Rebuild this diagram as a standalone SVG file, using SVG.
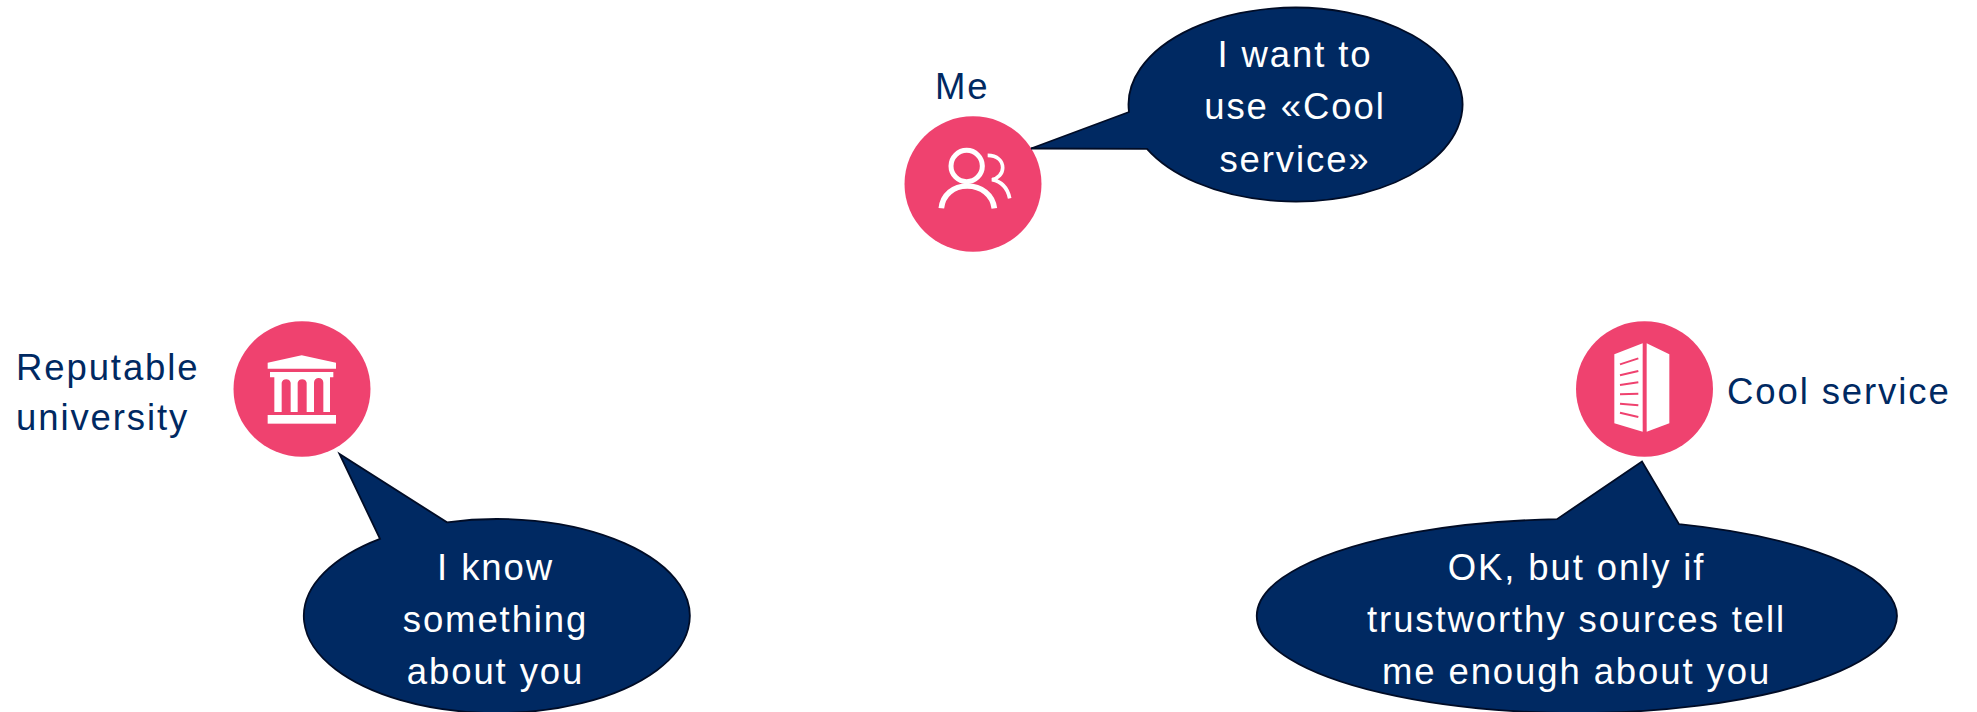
<svg xmlns="http://www.w3.org/2000/svg" width="1977" height="712" viewBox="0 0 1977 712">
<style>
text{font-family:"Liberation Sans",Arial,sans-serif;font-size:36.5px;letter-spacing:1.9px}
.lbl{fill:#002962}
.bt{fill:#fff;text-anchor:middle}
.bubble{fill:#002962;stroke:#000C26;stroke-width:1.8;stroke-linejoin:miter}
.disc{fill:#EF426F}
.ic{fill:#fff}
.il{fill:none;stroke:#fff;stroke-linecap:butt}
.pl{fill:none;stroke:#EF426F;stroke-width:6}
</style>
<rect width="1977" height="712" fill="#fff"/>
<g id="me">
<ellipse class="disc" cx="973" cy="184" rx="68.500" ry="67.700"/>
<g transform="translate(910 121) scale(.33333)">
<circle class="il" cx="170" cy="135" r="47" stroke-width="15"/>
<path class="il" stroke-width="17" d="M94 262C98 222 130 195 172 195C214 195 248 222 253 262"/>
<path class="il" stroke-width="11" d="M233 103C262 103 278 120 278 140C278 158 264 172 246 176C276 182 293 202 299 232"/>
</g>
<text class="lbl" x="935" y="98.500">Me</text>
</g>
<g id="me-callout">
<path class="bubble" d="M1147 148.900A167 97 0 1 0 1129 112L1031 148.500Z"/>
<text class="bt" x="1295" y="67">I want to</text>
<text class="bt" x="1295" y="119">use «Cool</text>
<text class="bt" x="1295" y="171.500">service»</text>
</g>
<g id="university">
<ellipse class="disc" cx="302" cy="389" rx="68.500" ry="67.700"/>
<g transform="translate(240 326) scale(.33333)">
<path class="ic" d="M83 110L185 88L288 110V128H83Z"/>
<path class="ic" d="M90 138H280V154H270V258H250V170A14 14 0 0 0 222 170V258H200V170A14 14 0 0 0 173 170V258H152V170A14 14 0 0 0 125 170V258H103V154H90Z"/>
<rect class="ic" x="83" y="267" width="205" height="26"/>
</g>
<text class="lbl" x="16" y="379.500">Reputable</text>
<text class="lbl" x="16" y="430">university</text>
</g>
<g id="university-callout">
<path class="bubble" d="M447 522.300A193 97 0 1 1 380 538.800L339.500 454Z"/>
<text class="bt" x="495.500" y="579.500">I know</text>
<text class="bt" x="495.500" y="631.500">something</text>
<text class="bt" x="495.500" y="683.500">about you</text>
</g>
<g id="cool-service">
<ellipse class="disc" cx="1644.500" cy="389" rx="68.500" ry="67.700"/>
<g transform="translate(1580 326) scale(.33333)">
<path class="ic" d="M103 85L188 52V317L103 292Z"/>
<path class="ic" d="M200 52L268 85V292L200 317Z"/>
<path class="pl" d="M120 115L175 97M120 148L175 135M120 177L175 169M120 205L175 203M120 233L175 238M120 260L175 273"/>
</g>
<text class="lbl" x="1727" y="404">Cool service</text>
</g>
<g id="cool-service-callout">
<path class="bubble" d="M1679 524.100A320 97 0 1 1 1557 519.200L1642 461.500Z"/>
<text class="bt" x="1576.500" y="579.500">OK, but only if</text>
<text class="bt" x="1576.500" y="631.500">trustworthy sources tell</text>
<text class="bt" x="1576.500" y="683.500">me enough about you</text>
</g>
<g id="connectors"></g>
</svg>
